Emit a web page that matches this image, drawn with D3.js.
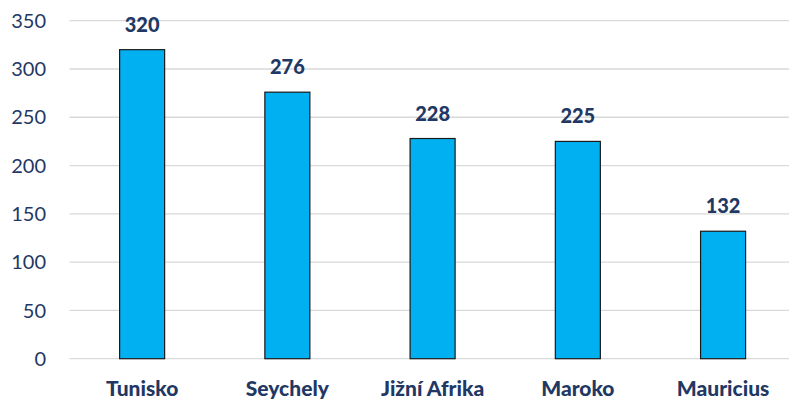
<!DOCTYPE html>
<html>
<head>
<meta charset="utf-8">
<script src="https://cdn.jsdelivr.net/npm/d3@7"></script>
<style>
  html, body { margin: 0; padding: 0; background: #fff; }
  svg { display: block; font-family: Lato, "Open Sans", sans-serif; }
</style>
</head>
<body>
<svg width="789" height="401"></svg>
<script>
// Data
const categories = ["Tunisko", "Seychely", "Jižní Afrika", "Maroko", "Mauricius"];
const values = [320, 276, 228, 225, 132];
const yTicks = [0, 50, 100, 150, 200, 250, 300, 350];

const svg = d3.select("svg");
const navy = "#1f3864";

// Scales
const x = d3.scaleBand()
  .domain(categories)
  .range([69.5, 795.7])
  .padding(0);

const y = d3.scaleLinear()
  .domain([0, 350])
  .range([358.7, 20.7]);

const barW = x.bandwidth() * 0.31;

// Gridlines
svg.append("g")
  .selectAll("line")
  .data(yTicks)
  .join("line")
  .attr("x1", 69.5)
  .attr("x2", 789)
  .attr("y1", d => y(d))
  .attr("y2", d => y(d))
  .attr("stroke", "#d9d9d9")
  .attr("stroke-width", 1.3);

// Y axis labels
svg.append("g")
  .selectAll("text")
  .data(yTicks)
  .join("text")
  .attr("x", 46)
  .attr("y", d => y(d))
  .attr("dy", "0.36em")
  .attr("text-anchor", "end")
  .attr("fill", navy)
  .style("font-size", "20px")
  .text(d => d);

// Bars
svg.append("g")
  .selectAll("rect")
  .data(values)
  .join("rect")
  .attr("x", (d, i) => x(categories[i]) + x.bandwidth() / 2 - barW / 2)
  .attr("y", d => y(d))
  .attr("width", barW)
  .attr("height", d => y(0) - y(d))
  .attr("fill", "#00b0f0")
  .attr("stroke", "#1a1a1a")
  .attr("stroke-width", 1.2);

// Value labels
svg.append("g")
  .selectAll("text")
  .data(values)
  .join("text")
  .attr("x", (d, i) => x(categories[i]) + x.bandwidth() / 2)
  .attr("y", d => y(d) - 18)
  .attr("text-anchor", "middle")
  .attr("fill", navy)
  .style("font-size", "20px")
  .style("font-weight", "900")
  .text(d => d);

// Category labels
svg.append("g")
  .selectAll("text")
  .data(categories)
  .join("text")
  .attr("x", d => x(d) + x.bandwidth() / 2)
  .attr("y", 396)
  .attr("text-anchor", "middle")
  .attr("fill", navy)
  .style("font-size", "21px")
  .style("font-weight", "900")
  .text(d => d);
</script>
</body>
</html>
